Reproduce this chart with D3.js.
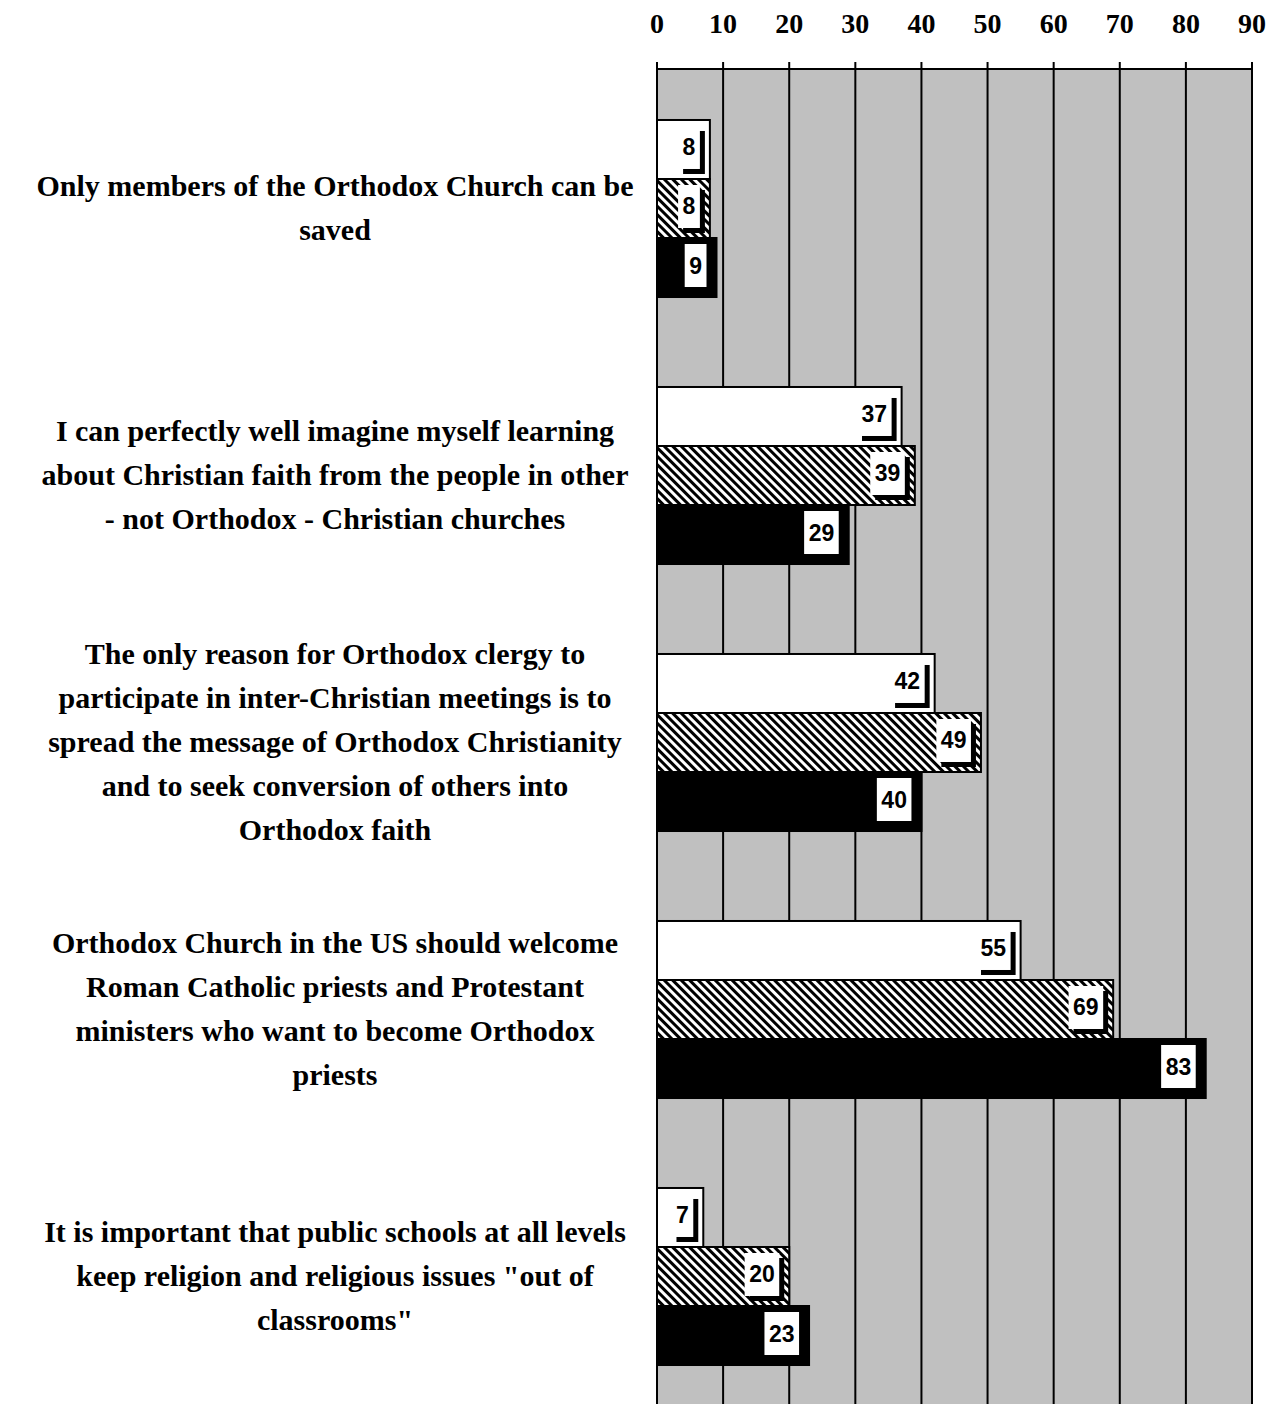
<!DOCTYPE html>
<html>
<head>
<meta charset="utf-8">
<script src="https://cdn.jsdelivr.net/npm/d3@7"></script>
<style>
  body { margin: 0; background: #fff; }
  svg { display: block; }
  .cat { font-family: 'Liberation Serif', serif; font-weight: bold; font-size: 30px; }
  .tick-lbl { font-family: 'Liberation Serif', serif; font-weight: bold; font-size: 28px; }
  .val { font-family: 'Liberation Sans', Arial, sans-serif; font-weight: bold; font-size: 23px; }
</style>
</head>
<body>
<div id="chart"></div>
<script>
// statements (already broken into lines as in the picture)
var categories = [
    ['Only members of the Orthodox Church can be', 'saved'],
    ['I can perfectly well imagine myself learning', 'about Christian faith from the people in other', '- not Orthodox - Christian churches'],
    ['The only reason for Orthodox clergy to', 'participate in inter-Christian meetings is to', 'spread the message of Orthodox Christianity', 'and to seek conversion of others into', 'Orthodox faith'],
    ['Orthodox Church in the US should welcome', 'Roman Catholic priests and Protestant', 'ministers who want to become Orthodox', 'priests'],
    ['It is important that public schools at all levels', 'keep religion and religious issues "out of', 'classrooms"']
]
var seriesNames = ['s1', 's2', 's3']
var s1Values = [8, 37, 42, 55, 7]
var s2Values = [8, 39, 49, 69, 20]
var s3Values = [9, 29, 40, 83, 23]
var xTicks = [0, 10, 20, 30, 40, 50, 60, 70, 80, 90]

var W = 1285, H = 1404
var axisY = 69

var svg = d3.select('#chart').append('svg')
    .attr('width', W)
    .attr('height', H)

// hatch pattern for the middle series
var defs = svg.append('defs')
var pat = defs.append('pattern')
    .attr('id', 'hatch')
    .attr('patternUnits', 'userSpaceOnUse')
    .attr('width', 6)
    .attr('height', 6)
    .attr('patternTransform', 'rotate(-45)')
pat.append('rect').attr('width', 6).attr('height', 6).attr('fill', '#fff')
pat.append('rect').attr('x', 0).attr('width', 3).attr('height', 6).attr('fill', '#000')

var x = d3.scaleLinear()
    .domain([0, 90])
    .range([657, 1252])

var y = d3.scaleBand()
    .domain(d3.range(categories.length))
    .range([75, 1410])
    .paddingInner(0.337)
    .paddingOuter(0.1685)

var ys = d3.scaleBand()
    .domain(seriesNames)
    .range([0, y.bandwidth()])

var fills = { s1: '#fff', s2: 'url(#hatch)', s3: '#000' }

// grey plot background
svg.append('rect')
    .attr('x', x(0))
    .attr('y', axisY)
    .attr('width', x(90) - x(0))
    .attr('height', H - axisY)
    .attr('fill', '#c0c0c0')

// vertical grid lines
svg.append('g').selectAll('line')
    .data(xTicks)
    .enter().append('line')
    .attr('x1', function (d) { return x(d) })
    .attr('x2', function (d) { return x(d) })
    .attr('y1', axisY - 7)
    .attr('y2', H)
    .attr('stroke', '#000')
    .attr('stroke-width', 2)

// top axis line
svg.append('line')
    .attr('x1', x(0) - 1)
    .attr('x2', x(90) + 1)
    .attr('y1', axisY)
    .attr('y2', axisY)
    .attr('stroke', '#000')
    .attr('stroke-width', 2)

svg.append('g').selectAll('text')
    .data(xTicks)
    .enter().append('text')
    .attr('class', 'tick-lbl')
    .attr('x', function (d) { return x(d) })
    .attr('y', 33)
    .attr('text-anchor', 'middle')
    .text(function (d) { return d })

// category labels
var lineH = 44
svg.append('g').selectAll('text')
    .data(categories)
    .enter().append('text')
    .attr('class', 'cat')
    .attr('text-anchor', 'middle')
    .each(function (lines, i) {
        var cy = y(i) + y.bandwidth() / 2
        var t0 = cy - (lines.length - 1) * lineH / 2
        d3.select(this).selectAll('tspan')
            .data(lines)
            .enter().append('tspan')
            .attr('x', 335)
            .attr('y', function (d, j) { return t0 + j * lineH + 9 })
            .text(function (d) { return d })
    })

// bars
var rows = []
categories.forEach(function (c, i) {
    rows.push({ cat: i, s: 's1', v: s1Values[i] })
    rows.push({ cat: i, s: 's2', v: s2Values[i] })
    rows.push({ cat: i, s: 's3', v: s3Values[i] })
})

var bar = svg.append('g').selectAll('g')
    .data(rows)
    .enter().append('g')
    .attr('transform', function (d) { return 'translate(0,' + (y(d.cat) + ys(d.s)) + ')' })

bar.append('rect')
    .attr('x', x(0))
    .attr('y', 0)
    .attr('width', function (d) { return x(d.v) - x(0) })
    .attr('height', ys.bandwidth())
    .attr('fill', function (d) { return fills[d.s] })
    .attr('stroke', '#000')
    .attr('stroke-width', 2)

// value labels: white box with a black drop shadow
bar.each(function (d) {
    var g = d3.select(this)
    var txt = g.append('text')
        .attr('class', 'val')
        .attr('text-anchor', 'end')
        .text(d.v)
    var tw = txt.node().getComputedTextLength()
    var bw = tw + 9, bh = 43
    var right = x(d.v) - 10
    var top = 6
    g.insert('rect', 'text')
        .attr('x', right - bw + 5)
        .attr('y', top + 5)
        .attr('width', bw)
        .attr('height', bh)
        .attr('fill', '#000')
    g.insert('rect', 'text')
        .attr('x', right - bw)
        .attr('y', top)
        .attr('width', bw)
        .attr('height', bh)
        .attr('fill', '#fff')
    txt.attr('x', right - 4.5)
        .attr('y', top + bh / 2 + 8)
})
</script>
</body>
</html>
